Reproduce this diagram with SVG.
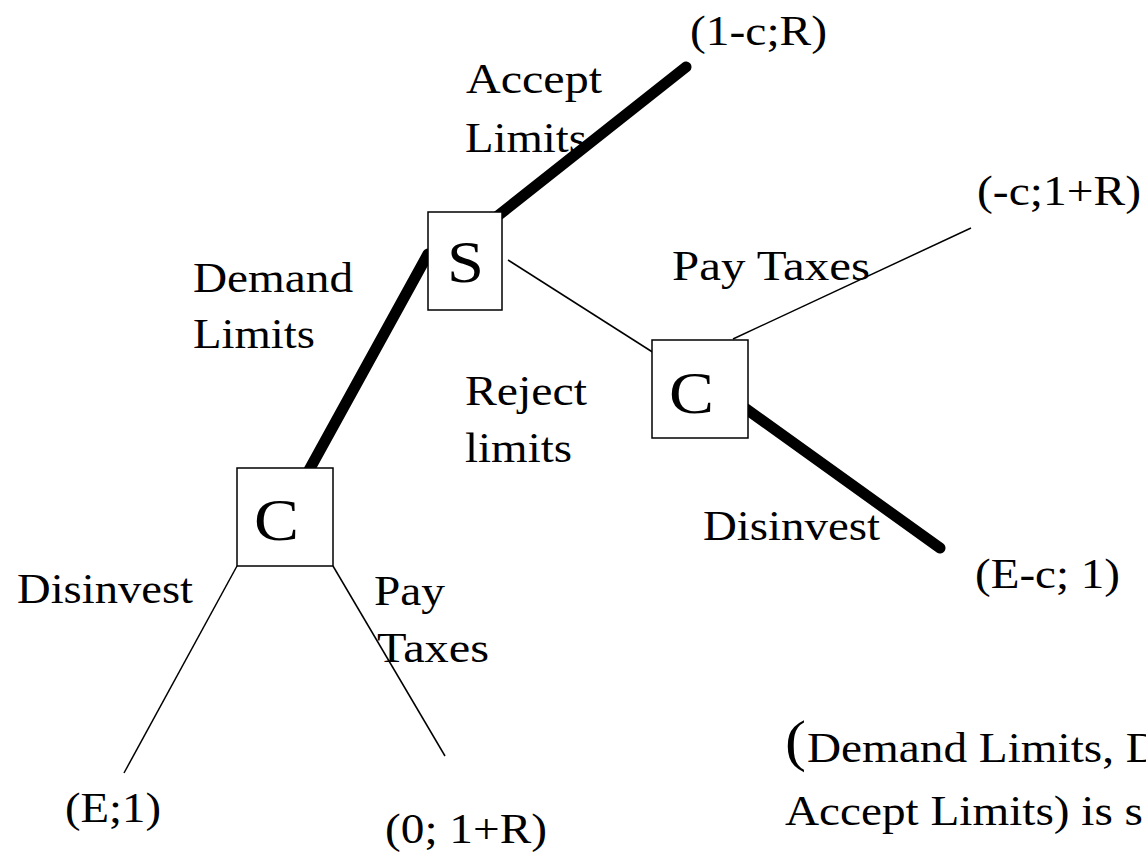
<svg xmlns="http://www.w3.org/2000/svg" width="1146" height="852" viewBox="0 0 1146 852">
  <style>
    text { font-family: "Liberation Serif", "Times New Roman", serif; fill: #000; }
    .lbl { font-size: 43px; }
    .big { font-size: 60px; }
    .thin { stroke: #000; stroke-width: 1.5; fill: none; }
    .thick { stroke: #000; stroke-width: 11; stroke-linecap: round; fill: none; }
    .box { fill: #fff; stroke: #000; stroke-width: 1.5; }
  </style>
  <rect width="1146" height="852" fill="#fff"/>

  <!-- branches of the game tree -->
  <g id="connectors">
    <line class="thick" x1="490" y1="222" x2="686" y2="67"/>
    <line class="thick" x1="428" y1="254" x2="308" y2="472"/>
    <line class="thin" x1="508" y1="260" x2="654" y2="353"/>
    <line class="thin" x1="733" y1="339" x2="971" y2="228"/>
    <line class="thick" x1="742" y1="406" x2="940" y2="548"/>
    <line class="thin" x1="237" y1="566" x2="124" y2="773"/>
    <line class="thin" x1="333" y1="566" x2="445" y2="756"/>
  </g>

  <!-- decision nodes -->
  <g id="node-s">
    <rect class="box" x="428" y="212" width="74" height="98"/>
    <text class="big" x="447" y="282" textLength="37" lengthAdjust="spacingAndGlyphs">S</text>
  </g>
  <g id="node-c-right">
    <rect class="box" x="652" y="340" width="96" height="98"/>
    <text class="big" x="669" y="413" textLength="45" lengthAdjust="spacingAndGlyphs">C</text>
  </g>
  <g id="node-c-left">
    <rect class="box" x="237" y="468" width="96" height="98"/>
    <text class="big" x="254" y="540" textLength="45" lengthAdjust="spacingAndGlyphs">C</text>
  </g>

  <!-- action labels -->
  <g id="labels">
    <text class="lbl" x="466" y="93" textLength="136" lengthAdjust="spacingAndGlyphs">Accept</text>
    <text class="lbl" x="465" y="152" textLength="122" lengthAdjust="spacingAndGlyphs">Limits</text>
    <text class="lbl" x="193" y="292" textLength="160" lengthAdjust="spacingAndGlyphs">Demand</text>
    <text class="lbl" x="193" y="348" textLength="122" lengthAdjust="spacingAndGlyphs">Limits</text>
    <text class="lbl" x="465" y="405" textLength="122" lengthAdjust="spacingAndGlyphs">Reject</text>
    <text class="lbl" x="465" y="462" textLength="107" lengthAdjust="spacingAndGlyphs">limits</text>
    <text class="lbl" x="672" y="280" textLength="198" lengthAdjust="spacingAndGlyphs">Pay Taxes</text>
    <text class="lbl" x="703" y="540" textLength="177" lengthAdjust="spacingAndGlyphs">Disinvest</text>
    <text class="lbl" x="17" y="603" textLength="176" lengthAdjust="spacingAndGlyphs">Disinvest</text>
    <text class="lbl" x="374" y="605" textLength="71" lengthAdjust="spacingAndGlyphs">Pay</text>
    <text class="lbl" x="377" y="662" textLength="112" lengthAdjust="spacingAndGlyphs">Taxes</text>
  </g>

  <!-- payoffs -->
  <g id="payoffs">
    <text class="lbl" x="690" y="45" textLength="137" lengthAdjust="spacingAndGlyphs">(1-c;R)</text>
    <text class="lbl" x="977" y="205" textLength="164" lengthAdjust="spacingAndGlyphs">(-c;1+R)</text>
    <text class="lbl" x="975" y="588" textLength="145" lengthAdjust="spacingAndGlyphs">(E-c; 1)</text>
    <text class="lbl" x="65" y="822" textLength="96" lengthAdjust="spacingAndGlyphs">(E;1)</text>
    <text class="lbl" x="385" y="843" textLength="162" lengthAdjust="spacingAndGlyphs">(0; 1+R)</text>
  </g>

  <!-- equilibrium note -->
  <g id="note">
    <text x="785" y="760" style="font-size:58px" textLength="21" lengthAdjust="spacingAndGlyphs">(</text>
    <text class="lbl" x="807" y="762" textLength="353" lengthAdjust="spacingAndGlyphs">Demand Limits, D</text>
    <text class="lbl" x="785" y="825" textLength="358" lengthAdjust="spacingAndGlyphs">Accept Limits) is s</text>
  </g>
</svg>
